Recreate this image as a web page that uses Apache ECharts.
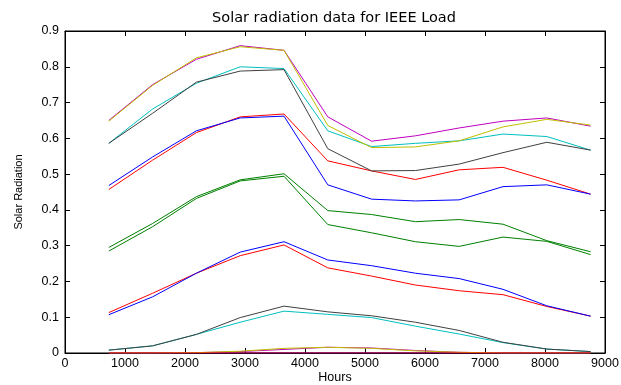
<!DOCTYPE html>
<html>
<head>
<meta charset="utf-8">
<script src="https://cdn.jsdelivr.net/npm/echarts@6/dist/echarts.min.js"></script>
<style>
  html, body { margin: 0; padding: 0; background: #fff; }
  #chart { width: 621px; height: 385px; }
</style>
</head>
<body>
<div id="chart"></div>
<script>
const hours = [730, 1460, 2190, 2920, 3650, 4380, 5110, 5840, 6570, 7300, 8030, 8760]

// top pair
const magentaHigh = [0.650, 0.750, 0.821, 0.859, 0.846, 0.660, 0.592, 0.607, 0.629, 0.648, 0.657, 0.634]
const yellowHigh = [0.648, 0.748, 0.825, 0.856, 0.846, 0.636, 0.574, 0.576, 0.593, 0.632, 0.653, 0.637]
// second pair
const cyanHigh = [0.586, 0.682, 0.754, 0.800, 0.795, 0.621, 0.577, 0.586, 0.593, 0.612, 0.605, 0.567]
const grayHigh = [0.586, 0.670, 0.757, 0.788, 0.792, 0.571, 0.509, 0.510, 0.528, 0.560, 0.589, 0.567]
// third pair
const blueHigh = [0.468, 0.548, 0.621, 0.657, 0.662, 0.470, 0.430, 0.425, 0.428, 0.465, 0.470, 0.444]
const redHigh = [0.457, 0.539, 0.616, 0.660, 0.668, 0.537, 0.509, 0.485, 0.512, 0.519, 0.483, 0.444]
// greens
const greenA = [0.295, 0.362, 0.437, 0.484, 0.501, 0.398, 0.387, 0.367, 0.373, 0.360, 0.314, 0.283]
const greenB = [0.285, 0.353, 0.432, 0.481, 0.494, 0.359, 0.336, 0.311, 0.298, 0.324, 0.312, 0.275]
// lower blue / red
const blueLow = [0.107, 0.157, 0.223, 0.282, 0.311, 0.260, 0.244, 0.223, 0.208, 0.178, 0.132, 0.103]
const redLow = [0.113, 0.167, 0.223, 0.272, 0.302, 0.238, 0.215, 0.190, 0.174, 0.163, 0.130, 0.103]
// lower gray / cyan
const grayLow = [0.008, 0.020, 0.052, 0.099, 0.131, 0.115, 0.104, 0.086, 0.063, 0.030, 0.011, 0.004]
const cyanLow = [0.008, 0.020, 0.052, 0.086, 0.117, 0.108, 0.099, 0.075, 0.053, 0.029, 0.011, 0.004]
// near zero
const magentaZero = [0, 0, 0.001, 0.004, 0.010, 0.016, 0.014, 0.007, 0.002, 0, 0, 0]
const yellowZero = [0, 0, 0.001, 0.005, 0.013, 0.016, 0.013, 0.006, 0.002, 0, 0, 0]
const blueZero = [0, 0, 0, 0, 0, 0, 0, 0, 0, 0, 0, 0]
const redZero = [0, 0, 0, 0, 0, 0, 0, 0, 0, 0, 0, 0]

const xTicks = [0, 1000, 2000, 3000, 4000, 5000, 6000, 7000, 8000, 9000]
const yTicks = [0, 0.1, 0.2, 0.3, 0.4, 0.5, 0.6, 0.7, 0.8, 0.9]

// the zero blue line is tied to the top/right axes so those get drawn too
const lines = [
  { values: blueZero, color: '#0000ff', box: true },
  { values: greenA, color: '#008000' },
  { values: redHigh, color: '#ff0000' },
  { values: cyanHigh, color: '#00bfbf' },
  { values: magentaHigh, color: '#bf00bf' },
  { values: yellowHigh, color: '#bfbf00' },
  { values: grayHigh, color: '#404040' },
  { values: blueHigh, color: '#0000ff' },
  { values: greenB, color: '#008000' },
  { values: redLow, color: '#ff0000' },
  { values: cyanLow, color: '#00bfbf' },
  { values: magentaZero, color: '#bf00bf' },
  { values: yellowZero, color: '#bfbf00' },
  { values: grayLow, color: '#404040' },
  { values: blueLow, color: '#0000ff' },
  { values: redZero, color: '#ff0000' }
]

const font = 'Liberation Sans, Arial, sans-serif'

const chart = echarts.init(document.getElementById('chart'), null, { renderer: 'canvas' })

const plainAxis = {
  axisLine: { show: true, onZero: false, lineStyle: { color: '#000', width: 1 } },
  axisTick: { show: true, inside: true, length: 5, lineStyle: { color: '#000' } },
  splitLine: { show: false }
}

chart.setOption({
  animation: false,
  backgroundColor: '#fff',
  title: {
    text: 'Solar radiation data for IEEE Load',
    left: 329,
    textAlign: 'center',
    top: 6,
    textStyle: { fontFamily: 'DejaVu Sans', fontSize: 14.5, fontWeight: 'normal', color: '#000' }
  },
  grid: {
    left: 65, right: 16, top: 31, bottom: 32,
    outerBoundsMode: 'none',
    show: true, borderColor: '#000', borderWidth: 1
  },
  xAxis: [{
    type: 'value',
    min: xTicks[0],
    max: xTicks[xTicks.length - 1],
    interval: 1000,
    name: 'Hours',
    nameLocation: 'middle',
    nameGap: 18,
    nameMoveOverlap: false,
    nameTextStyle: { fontFamily: font, fontSize: 12.5, color: '#000' },
    axisLabel: { fontFamily: font, fontSize: 12.5, color: '#000', margin: 4, formatter: v => String(v) },
    ...plainAxis
  }, {
    type: 'value',
    position: 'top',
    min: xTicks[0],
    max: xTicks[xTicks.length - 1],
    interval: 1000,
    axisLabel: { show: false },
    ...plainAxis
  }],
  yAxis: [{
    type: 'value',
    min: yTicks[0],
    max: yTicks[yTicks.length - 1],
    interval: 0.1,
    name: 'Solar Radiation',
    nameLocation: 'middle',
    nameGap: 41,
    nameMoveOverlap: false,
    nameTextStyle: { fontFamily: font, fontSize: 11, color: '#000' },
    axisLabel: {
      fontFamily: font, fontSize: 12.5, color: '#000', margin: 6,
      formatter: v => String(Number(v.toFixed(1)))
    },
    ...plainAxis
  }, {
    type: 'value',
    position: 'right',
    min: yTicks[0],
    max: yTicks[yTicks.length - 1],
    interval: 0.1,
    axisLabel: { show: false },
    ...plainAxis
  }],
  series: lines.map(l => ({
    type: 'line',
    xAxisIndex: l.box ? 1 : 0,
    yAxisIndex: l.box ? 1 : 0,
    data: hours.map((h, i) => [h, l.values[i]]),
    showSymbol: false,
    symbol: 'none',
    lineStyle: { color: l.color, width: 1 },
    itemStyle: { color: l.color },
    z: 2
  }))
})
</script>
</body>
</html>
